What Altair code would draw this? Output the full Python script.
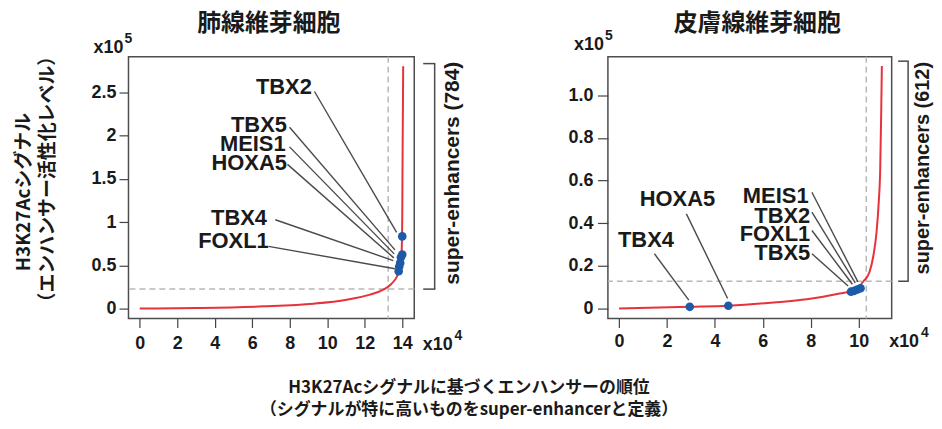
import altair as alt
import pandas as pd

# ---------------- data ----------------
# Lung fibroblasts (肺線維芽細胞): enhancer rank (x1e4) vs H3K27Ac signal (x1e5)
lung_rank = [0, 3.07, 6.61, 9.27, 11.04, 12.28, 12.99, 13.43, 13.70, 13.84, 13.92, 13.97, 14.00, 14.02, 14.05]
lung_signal = [0.0, 0.007, 0.026, 0.057, 0.103, 0.161, 0.218, 0.287, 0.363, 0.44, 0.53, 0.67, 1.05, 1.82, 2.80]

lung_genes = ["TBX2", "TBX5", "MEIS1", "HOXA5", "TBX4", "FOXL1"]
lung_gene_rank = [14.0, 14.0, 13.93, 13.89, 13.84, 13.81]
lung_gene_signal = [0.834, 0.624, 0.593, 0.528, 0.486, 0.432]
lung_label_rank = [9.18, 7.85, 7.78, 7.85, 6.79, 6.88]
lung_label_signal = [2.565, 2.125, 1.896, 1.684, 1.049, 0.776]
lung_leader_rank = [9.32, 7.99, 7.99, 7.88, 7.23, 6.87]
lung_leader_signal = [2.508, 2.094, 1.868, 1.666, 1.026, 0.719]
lung_leader_end_rank = [13.70, 13.61, 13.57, 13.55, 13.52, 13.61]
lung_leader_end_signal = [0.880, 0.678, 0.632, 0.586, 0.555, 0.46]
lung_cut_rank = 13.25
lung_cut_signal = 0.225
lung_se_top = 2.83
lung_se_count = 784

# Skin fibroblasts (皮膚線維芽細胞)
skin_rank = [0, 2.95, 4.56, 6.46, 7.84, 9.21, 9.83, 10.21, 10.45, 10.62, 10.75, 10.84, 10.90, 10.94, 10.97]
skin_signal = [0.0, 0.008, 0.013, 0.028, 0.043, 0.070, 0.086, 0.129, 0.17, 0.25, 0.36, 0.50, 0.65, 0.90, 1.137]

skin_genes = ["MEIS1", "TBX2", "FOXL1", "TBX5", "HOXA5", "TBX4"]
skin_gene_rank = [10.08, 9.95, 9.82, 9.68, 4.56, 2.95]
skin_gene_signal = [0.095, 0.089, 0.083, 0.079, 0.013, 0.008]
skin_label_rank = [7.91, 7.98, 7.98, 7.98, 4.01, 2.29]
skin_label_signal = [0.526, 0.432, 0.350, 0.258, 0.514, 0.319]
skin_leader_rank = [8.05, 8.05, 8.05, 8.05, 2.81, 1.475]
skin_leader_signal = [0.545, 0.452, 0.366, 0.257, 0.444, 0.257]
skin_leader_end_rank = [9.97, 9.86, 9.74, 9.56, 4.53, 2.91]
skin_leader_end_signal = [0.125, 0.12, 0.114, 0.106, 0.047, 0.039]
skin_cut_rank = 10.32
skin_cut_signal = 0.128
skin_se_top = 1.16
skin_se_count = 612

lung_x_ticks = [0, 2, 4, 6, 8, 10, 12, 14]
lung_y_ticks = [0, 0.5, 1, 1.5, 2, 2.5]
skin_x_ticks = [0, 2, 4, 6, 8, 10]
skin_y_ticks = [0, 0.2, 0.4, 0.6, 0.8, 1.0]

lung_title = "肺線維芽細胞"
skin_title = "皮膚線維芽細胞"
y_title = ["H3K27Acシグナル", "（エンハンサー活性化レベル）"]
x_title = ["H3K27Acシグナルに基づくエンハンサーの順位", "（シグナルが特に高いものをsuper-enhancerと定義）"]

# ---------------- styling ----------------
H = 263
RED = "#e8323a"
BLUE = "#1d5aa8"
LINE = "#4a4a4a"
DASH = "#b8b8b8"
TXT = "#1a1a1a"
LATIN = "Liberation Sans"
CJK = "Noto Sans CJK JP"


def note(text, x, y, size, font=LATIN, angle=0, align="center", baseline="middle"):
    return alt.Chart(pd.DataFrame({"t": [text]})).mark_text(
        font=font, fontSize=size, fontWeight="bold", color=TXT, angle=angle,
        align=align, baseline=baseline, clip=False,
    ).encode(x=alt.value(x), y=alt.value(y), text="t:N")


def panel(rank, signal, genes, g_r, g_s, l_r, l_s, s_r, s_s, e_r, e_s,
          cut_r, cut_s, se_top, se_n, x_ticks, y_ticks, xdom, ydom, ylabel_expr,
          title, ann):
    W = ann["w"]
    xs = alt.Scale(domain=xdom, nice=False, zero=False)
    ys = alt.Scale(domain=ydom, nice=False, zero=False)
    xax = alt.Axis(values=x_ticks, labelExpr="'' + datum.value", title=None,
                   tickSize=ann["xtick"], labelPadding=ann["xpad"], labelFlush=False,
                   labelOverlap=False)
    yax = alt.Axis(values=y_ticks, labelExpr=ylabel_expr, title=None,
                   tickSize=ann["ytick"], labelPadding=ann["ypad"], labelFlush=False,
                   labelOverlap=False)

    def X(f):
        return alt.X(f, scale=xs, axis=xax)

    def Y(f):
        return alt.Y(f, scale=ys, axis=yax)

    curve_df = pd.DataFrame({"rank": rank, "signal": signal})
    gene_df = pd.DataFrame({"gene": genes, "rank": g_r, "signal": g_s})
    label_df = pd.DataFrame({"gene": genes, "rank": l_r, "signal": l_s})
    leader_df = pd.DataFrame({"rank": s_r, "signal": s_s, "rank2": e_r, "signal2": e_s})
    cut_df = pd.DataFrame({"rank": [cut_r], "signal": [cut_s]})
    br_df = pd.DataFrame({"signal": [cut_s], "signal2": [se_top]})
    arm_df = pd.DataFrame({"signal": [cut_s, se_top]})

    vdash = alt.Chart(cut_df).mark_rule(color=DASH, strokeWidth=1.5, strokeDash=[6, 4]).encode(x=X("rank:Q"))
    hdash = alt.Chart(cut_df).mark_rule(color=DASH, strokeWidth=1.5, strokeDash=[6, 4]).encode(y=Y("signal:Q"))
    curve = alt.Chart(curve_df).mark_line(color=RED, strokeWidth=2, interpolate="monotone").encode(
        x=X("rank:Q"), y=Y("signal:Q"))
    leaders = alt.Chart(leader_df).mark_rule(color=LINE, strokeWidth=1.4).encode(
        x=X("rank:Q"), y=Y("signal:Q"), x2="rank2:Q", y2="signal2:Q")
    points = alt.Chart(gene_df).mark_circle(color=BLUE, size=75, opacity=1).encode(
        x=X("rank:Q"), y=Y("signal:Q"))
    labels = alt.Chart(label_df).mark_text(
        align="right", baseline="middle", font=LATIN, fontSize=22, fontWeight="bold", color=TXT
    ).encode(x=X("rank:Q"), y=Y("signal:Q"), text="gene:N")
    bracket = alt.Chart(br_df).mark_rule(color=LINE, strokeWidth=1.5, clip=False).encode(
        x=alt.value(W + ann["bx"]), y=Y("signal:Q"), y2="signal2:Q")
    arms = alt.Chart(arm_df).mark_rule(color=LINE, strokeWidth=1.5, clip=False).encode(
        x=alt.value(W + ann["ax"]), x2=alt.value(W + ann["bx"] + 0.7), y=Y("signal:Q"))

    layers = [vdash, hdash, curve, leaders, points, labels, bracket, arms,
              note(f"super-enhancers ({se_n})", W + ann["sex"], ann["sey"], ann["sefs"], angle=270),
              note(title, ann["tx"], -32.5, 24, font=CJK),
              note("x10", ann["y10x"], ann["y10y"], 18, align="right", baseline="alphabetic"),
              note("5", ann["y10x"] + 1, ann["y10y"] - 10, 14, align="left", baseline="alphabetic"),
              note("x10", ann["x10x"], H + ann["x10y"], 18, align="left", baseline="alphabetic"),
              note("4", ann["x10x"] + 32, H + ann["x10y"] - 10, 14, align="left", baseline="alphabetic")]
    layers += ann.get("extra", [])
    return alt.layer(*layers).properties(width=W, height=H)


left_extra = [
    note(y_title[0], -105, 136, 19, font=CJK, angle=270),
    note(y_title[1], -81, 123, 19, font=CJK, angle=270),
    note(x_title[0], 342, 332.5, 17, font=CJK),
    note(x_title[1], 342, 355, 17, font=CJK),
]

left = panel(lung_rank, lung_signal, lung_genes, lung_gene_rank, lung_gene_signal,
             lung_label_rank, lung_label_signal, lung_leader_rank, lung_leader_signal,
             lung_leader_end_rank, lung_leader_end_signal, lung_cut_rank, lung_cut_signal,
             lung_se_top, lung_se_count, lung_x_ticks, lung_y_ticks,
             [-0.60, 14.64], [-0.115, 2.91], "'' + datum.value", lung_title,
             dict(w=287, xtick=9, xpad=7.5, ytick=9.5, ypad=3, bx=20.5, ax=9, sex=38.5, sey=117,
                  sefs=21, tx=141, y10x=-5, y10y=-3.5, x10x=295.5, x10y=31.5, extra=left_extra))

right = panel(skin_rank, skin_signal, skin_genes, skin_gene_rank, skin_gene_signal,
              skin_label_rank, skin_label_signal, skin_leader_rank, skin_leader_signal,
              skin_leader_end_rank, skin_leader_end_signal, skin_cut_rank, skin_cut_signal,
              skin_se_top, skin_se_count, skin_x_ticks, skin_y_ticks,
              [-0.467, 11.38], [-0.047, 1.181],
              "datum.value == 0 ? '0' : format(datum.value, '.1f')", skin_title,
              dict(w=285, xtick=9, xpad=5.5, ytick=10.5, ypad=4.5, bx=16.5, ax=6.5, sex=31, sey=112,
                   sefs=20, tx=150, y10x=-4, y10y=-7, x10x=282.5, x10y=28.5))

chart = alt.hconcat(left, right, spacing=194.5, bounds="flush").properties(
    padding={"left": 6, "top": 2, "right": 0, "bottom": 0}
).configure_view(
    stroke="#4d4d4d", strokeWidth=1.5
).configure_axis(
    domain=False, grid=False, tickColor="#444", tickWidth=1.2,
    labelFont=LATIN, labelFontSize=18, labelFontWeight="bold", labelColor=TXT
)

chart.save("out.html", embed_options={"renderer": "svg", "actions": False})
